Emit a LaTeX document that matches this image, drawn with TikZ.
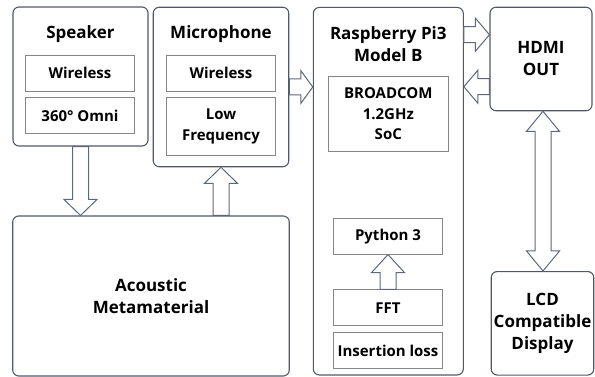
\documentclass[tikz,border=0pt]{standalone}
\usepackage{fontspec}
\setmainfont{Open Sans}
\usetikzlibrary{calc}

\definecolor{framegray}{HTML}{505868}
\definecolor{innergray}{HTML}{858585}
\definecolor{arrowgray}{HTML}{5F6878}

\def\shaftw{8pt}
\def\headw{16.5pt}

% hollow block arrow from #2 to #3, head length #1
\newcommand{\fatarrow}[3][16pt]{%
  \draw[fatline] ($(#2)!\shaftw!-90:(#3)$)
    -- ($(#3)!#1!(#2)!\shaftw!90:(#2)$)
    -- ($(#3)!#1!(#2)!\headw!90:(#2)$)
    -- (#3)
    -- ($(#3)!#1!(#2)!\headw!-90:(#2)$)
    -- ($(#3)!#1!(#2)!\shaftw!-90:(#2)$)
    -- ($(#2)!\shaftw!90:(#3)$) -- cycle;}

% same, with a head at both ends
\newcommand{\fatdarrow}[3][20pt]{%
  \draw[fatline] (#2)
    -- ($(#2)!#1!(#3)!\headw!-90:(#3)$)
    -- ($(#2)!#1!(#3)!\shaftw!-90:(#3)$)
    -- ($(#3)!#1!(#2)!\shaftw!90:(#2)$)
    -- ($(#3)!#1!(#2)!\headw!90:(#2)$)
    -- (#3)
    -- ($(#3)!#1!(#2)!\headw!-90:(#2)$)
    -- ($(#3)!#1!(#2)!\shaftw!-90:(#2)$)
    -- ($(#2)!#1!(#3)!\shaftw!90:(#3)$)
    -- ($(#2)!#1!(#3)!\headw!90:(#3)$) -- cycle;}

\tikzset{
  outerbox/.style={draw=framegray, line width=1.1pt, rounded corners=6pt, inner sep=0pt},
  innerbox/.style={draw=innergray, line width=0.8pt, inner sep=0pt, align=center,
    font=\bfseries\fontsize{15}{20.5}\selectfont},
  boxtext/.style={align=center, inner sep=0pt, font=\bfseries\fontsize{17}{22}\selectfont},
  fatline/.style={draw=arrowgray, line width=1pt, fill=white, line join=miter}
}

\begin{document}
\begin{tikzpicture}[x=1pt, y=-1pt]
    \useasboundingbox (0,0) rectangle (595,377);

    % Speaker
    \node[outerbox, minimum width=135pt, minimum height=139pt] (spk) at (80.5,76.5) {};
    \node[boxtext] (spkt) at (80.5,34) {Speaker};
    \node[innerbox, minimum width=108.5pt, minimum height=36pt] (spkw) at (80,73) {Wireless};
    \node[innerbox, minimum width=108.5pt, minimum height=36pt] (spko) at (80,115.5) {360° Omni};

    % Microphone
    \node[outerbox, minimum width=135.5pt, minimum height=159.5pt] (mic) at (221,87) {};
    \node[boxtext] (mict) at (221,34) {Microphone};
    \node[innerbox, minimum width=108.5pt, minimum height=36pt] (micw) at (221,73) {Wireless};
    \node[innerbox, minimum width=108.5pt, minimum height=57.5pt] (micl) at (221,126.3) {Low\\Frequency};

    % Acoustic metamaterial
    \node[outerbox, minimum width=276.5pt, minimum height=160pt] (acou) at (151,296) {};
    \node[boxtext] (acout) at (151,296) {Acoustic\\Metamaterial};

    % Raspberry Pi
    \node[outerbox, minimum width=150pt, minimum height=367.5pt] (rpi) at (388.3,191.2) {};
    \node[boxtext] (rpit) at (388.3,44) {Raspberry Pi3\\Model B};
    \node[innerbox, minimum width=120pt, minimum height=74.5pt] (bcm) at (388.3,113.8) {BROADCOM\\1.2GHz\\SoC};
    \node[innerbox, minimum width=109.5pt, minimum height=36pt] (py) at (388,236.2) {Python 3};
    \node[innerbox, minimum width=109.5pt, minimum height=36pt] (fft) at (388,307.8) {FFT};
    \node[innerbox, minimum width=109.5pt, minimum height=36pt] (ins) at (388,350.5) {Insertion loss};

    % HDMI and display
    \node[outerbox, minimum width=102pt, minimum height=103.5pt] (hdmi) at (541,59) {};
    \node[boxtext] (hdmit) at (541,59) {HDMI\\OUT};
    \node[outerbox, minimum width=102.5pt, minimum height=103.5pt] (lcd) at (542.5,323.3) {};
    \node[boxtext] (lcdt) at (542.5,323.3) {LCD\\Compatible\\Display};

    % Arrow ends
    \coordinate (spkout) at (spk.south);
    \coordinate (acouin) at (spk.south |- acou.north);
    \coordinate (micin) at (mic.south);
    \coordinate (acouout) at (mic.south |- acou.north);
    \coordinate (micout) at (mic.east);
    \coordinate (rpiin) at (mic.east -| rpi.west);
    \coordinate (hdmiin) at ($(hdmi.north west)+(0,28)$);
    \coordinate (rpiout) at (hdmiin -| rpi.east);
    \coordinate (hdmiout) at ($(hdmi.north west)+(0,80)$);
    \coordinate (rpiback) at (hdmiout -| rpi.east);
    \coordinate (hdmibot) at ($(hdmi.south)+(2,0)$);
    \coordinate (lcdtop) at (hdmibot |- lcd.north);

    % Arrows
    \fatarrow{spkout}{acouin}
    \fatarrow{acouout}{micin}
    \fatarrow[12pt]{micout}{rpiin}
    \fatarrow[14pt]{rpiout}{hdmiin}
    \fatarrow[14pt]{hdmiout}{rpiback}
    \fatdarrow{hdmibot}{lcdtop}
    \fatarrow[18pt]{fft.north}{py.south}
\end{tikzpicture}
\end{document}
